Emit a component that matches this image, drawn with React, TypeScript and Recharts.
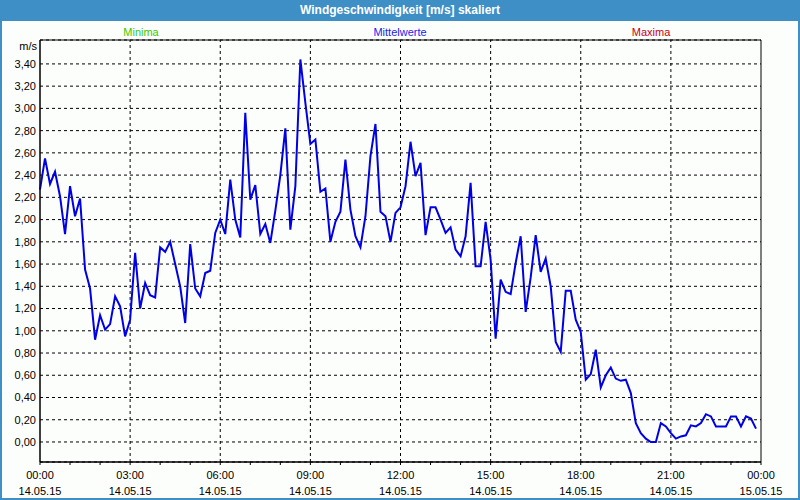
import { LineChart, Line, XAxis, YAxis, CartesianGrid, ReferenceLine, ReferenceArea } from 'recharts';

// Mittelwerte in m/s, alle 10 Minuten ab 14.05.15 00:00
const speeds = [
  2.27, 2.55, 2.32, 2.43, 2.21, 1.87, 2.30, 2.03, 2.19, 1.55, 1.38, 0.92,
  1.14, 1.01, 1.06, 1.31, 1.22, 0.95, 1.10, 1.70, 1.20, 1.43, 1.32, 1.30,
  1.75, 1.71, 1.80, 1.60, 1.40, 1.07, 1.78, 1.38, 1.31, 1.52, 1.54, 1.88,
  2.00, 1.87, 2.36, 2.00, 1.84, 2.96, 2.18, 2.31, 1.87, 1.96, 1.79, 2.08,
  2.40, 2.82, 1.91, 2.30, 3.44, 3.05, 2.68, 2.72, 2.25, 2.28, 1.80, 1.98,
  2.07, 2.54, 2.09, 1.85, 1.75, 2.03, 2.57, 2.86, 2.07, 2.03, 1.80, 2.06,
  2.11, 2.30, 2.70, 2.39, 2.51, 1.86, 2.11, 2.11, 2.00, 1.88, 1.93, 1.73,
  1.67, 1.85, 2.33, 1.58, 1.58, 1.98, 1.64, 0.93, 1.46, 1.35, 1.33, 1.61,
  1.85, 1.17, 1.48, 1.86, 1.53, 1.65, 1.40, 0.90, 0.81, 1.36, 1.36, 1.10,
  0.99, 0.56, 0.61, 0.83, 0.49, 0.60, 0.67, 0.57, 0.55, 0.56, 0.44, 0.17,
  0.08, 0.03, 0.00, 0.00, 0.17, 0.14, 0.08, 0.03, 0.05, 0.06, 0.15, 0.14,
  0.17, 0.25, 0.23, 0.14, 0.14, 0.14, 0.23, 0.23, 0.14, 0.23, 0.21, 0.12,
];
const stepMinutes = 10;

const hourTicks = Array.from({ length: 25 }, (_, i) => i * 60);
const gridHours = [180, 360, 540, 720, 900, 1080, 1260];
const yTicks = [0, 0.2, 0.4, 0.6, 0.8, 1.0, 1.2, 1.4, 1.6, 1.8, 2.0, 2.2, 2.4, 2.6, 2.8, 3.0, 3.2, 3.4];
const timeLabels: Record<number, string> = {
  0: '00:00', 180: '03:00', 360: '06:00', 540: '09:00', 720: '12:00',
  900: '15:00', 1080: '18:00', 1260: '21:00', 1440: '00:00',
};
const dateLabels: Record<number, string> = {
  0: '14.05.15', 180: '14.05.15', 360: '14.05.15', 540: '14.05.15', 720: '14.05.15',
  900: '14.05.15', 1080: '14.05.15', 1260: '14.05.15', 1440: '15.05.15',
};

const data = speeds.map((v, i) => ({ t: i * stepMinutes, v }));

const font = 'Tahoma, "Liberation Sans", sans-serif';
const frameBlue = '#3d8fc6';

function TimeTick(props: any) {
  const { x, y, payload } = props;
  const label = timeLabels[payload.value];
  if (!label) return null;
  return (
    <g>
      <text x={x} y={y + 12} textAnchor="middle" fontSize={11} fontFamily={font} fill="#000">
        {label}
      </text>
      <text x={x} y={y + 28} textAnchor="middle" fontSize={11} fontFamily={font} fill="#000">
        {dateLabels[payload.value]}
      </text>
    </g>
  );
}

export default function App() {
  return (
    <div
      style={{
        position: 'absolute', left: 0, top: 0, width: 800, height: 500,
        boxSizing: 'border-box', border: `2px solid ${frameBlue}`, borderTop: 'none',
        background: '#fcfefc', fontFamily: font,
      }}
    >
      <div
        style={{
          position: 'absolute', left: -2, top: 0, width: 800, height: 21,
          background: frameBlue, color: '#fff', fontWeight: 'bold', fontSize: 12,
          textAlign: 'center', lineHeight: '21px',
        }}
      >
        Windgeschwindigkeit [m/s] skaliert
      </div>
      <div style={{ position: 'absolute', left: 139, top: 26, width: 0, fontSize: 11 }}>
        <span style={{ position: 'absolute', transform: 'translateX(-50%)', color: '#3cc800', whiteSpace: 'nowrap' }}>Minima</span>
      </div>
      <div style={{ position: 'absolute', left: 398, top: 26, width: 0, fontSize: 11 }}>
        <span style={{ position: 'absolute', transform: 'translateX(-50%)', color: '#2222ee', whiteSpace: 'nowrap' }}>Mittelwerte</span>
      </div>
      <div style={{ position: 'absolute', left: 649, top: 26, width: 0, fontSize: 11 }}>
        <span style={{ position: 'absolute', transform: 'translateX(-50%)', color: '#c80014', whiteSpace: 'nowrap' }}>Maxima</span>
      </div>
      <div style={{ position: 'absolute', left: 0, top: 40, width: 35, textAlign: 'right', fontSize: 11 }}>m/s</div>
      <div style={{ position: 'absolute', left: -2, top: 0 }}>
        <LineChart width={800} height={500} data={data} margin={{ top: 40, right: 39, left: 0, bottom: 0 }}>
          <CartesianGrid vertical={false} stroke="#000" strokeDasharray="3 3" />
          {gridHours.map((h) => (
            <ReferenceLine key={h} x={h} stroke="#000" strokeDasharray="3 3" />
          ))}
          <ReferenceArea x1={0} x2={1440} y1={-0.18} y2={3.615} fill="none" stroke="#000" strokeWidth={1} />
          <XAxis
            dataKey="t"
            type="number"
            domain={[0, 1440]}
            ticks={hourTicks}
            interval={0}
            height={38}
            axisLine={{ stroke: '#000' }}
            tickLine={{ stroke: '#000' }}
            tickSize={3}
            tick={<TimeTick />}
          />
          <YAxis
            type="number"
            domain={[-0.18, 3.615]}
            ticks={yTicks}
            interval={0}
            width={40}
            axisLine={{ stroke: '#000' }}
            tickLine={false}
            tickSize={0}
            tickMargin={4}
            tickFormatter={(v: number) => v.toFixed(2).replace('.', ',')}
            tick={{ fontSize: 11, fontFamily: font, fill: '#000' }}
          />
          <Line
            type="linear"
            dataKey="v"
            stroke="#0000e6"
            strokeWidth={2}
            dot={false}
            isAnimationActive={false}
          />
        </LineChart>
      </div>
    </div>
  );
}
